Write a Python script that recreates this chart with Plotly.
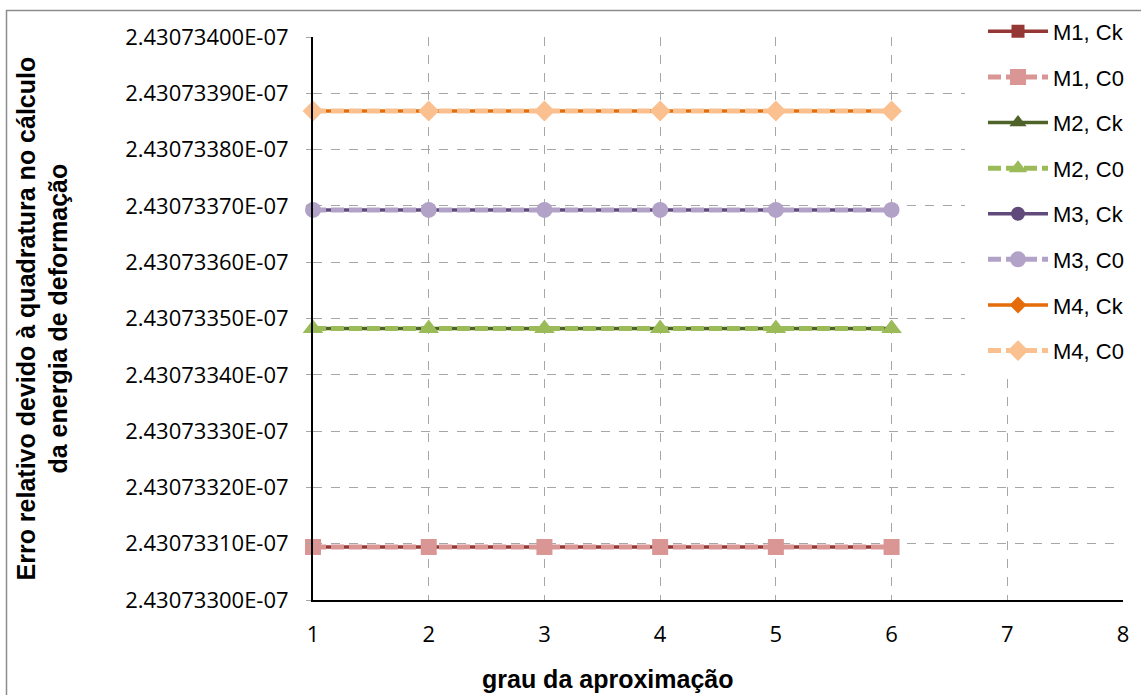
import plotly.graph_objects as go

# ---- data ----
grau = [1, 2, 3, 4, 5, 6]
m1_ck = [2.4307330942e-07] * 6
m1_c0 = [2.4307330942e-07] * 6
m2_ck = [2.4307334822e-07] * 6
m2_c0 = [2.4307334822e-07] * 6
m3_ck = [2.4307336929e-07] * 6
m3_c0 = [2.4307336929e-07] * 6
m4_ck = [2.4307338686e-07] * 6
m4_c0 = [2.4307338686e-07] * 6

y_tickvals = [2.43073300e-07, 2.43073310e-07, 2.43073320e-07, 2.43073330e-07,
              2.43073340e-07, 2.43073350e-07, 2.43073360e-07, 2.43073370e-07,
              2.43073380e-07, 2.43073390e-07, 2.43073400e-07]
y_ticktext = ["2.43073300E-07", "2.43073310E-07", "2.43073320E-07", "2.43073330E-07",
              "2.43073340E-07", "2.43073350E-07", "2.43073360E-07", "2.43073370E-07",
              "2.43073380E-07", "2.43073390E-07", "2.43073400E-07"]
x_tickvals = [1, 2, 3, 4, 5, 6, 7, 8]

series = [
    ("M1, Ck", m1_ck, "#953735", "square", 13, "solid", 3.5),
    ("M1, C0", m1_c0, "#D99694", "square", 16, "13px,5px", 5),
    ("M2, Ck", m2_ck, "#4F6228", "triangle-up", 15, "solid", 3.5),
    ("M2, C0", m2_c0, "#9BBB59", "triangle-up", 18, "13px,5px", 5),
    ("M3, Ck", m3_ck, "#604A7B", "circle", 14, "solid", 3.5),
    ("M3, C0", m3_c0, "#B3A2C7", "circle", 16, "13px,5px", 5),
    ("M4, Ck", m4_ck, "#E46C0A", "diamond", 13, "solid", 3.5),
    ("M4, C0", m4_c0, "#FAC090", "diamond", 16, "13px,5px", 5),
]

fig = go.Figure()
for i, (name, ys, color, sym, size, dash, width) in enumerate(series):
    fig.add_trace(go.Scatter(
        x=grau, y=ys, name=name, mode="lines+markers",
        line=dict(color=color, width=width, dash=dash),
        marker=dict(symbol=sym, size=size, color=color, line=dict(width=0)),
        legendgroup=f"g{i}",
        cliponaxis=False,
    ))

fig.update_layout(
    width=1141, height=695,
    margin=dict(l=313, r=18, t=37, b=95, autoexpand=False),
    paper_bgcolor="white", plot_bgcolor="white",
    font=dict(family="Liberation Sans, Arial", size=22, color="black"),
    showlegend=True,
    legend=dict(
        x=(983 - 313) / 810, xanchor="left", y=1.047, yanchor="top",
        bgcolor="rgba(0,0,0,0)", borderwidth=0,
        font=dict(family="Liberation Sans, Arial", size=22, color="black"),
        tracegroupgap=14, itemwidth=60, maxheight=650,
    ),
    xaxis=dict(
        range=[1, 8], tickvals=x_tickvals,
        showline=True, linecolor="black", linewidth=2,
        showgrid=True, gridcolor="#A6A6A6", griddash="dash", gridwidth=1,
        ticks="", zeroline=False, ticklabelstandoff=14,
        tickfont=dict(family="Open Sans, Liberation Sans", size=22),
    ),
    yaxis=dict(
        range=[2.43073300e-07, 2.43073400e-07],
        tickvals=y_tickvals, ticktext=y_ticktext,
        showline=True, linecolor="black", linewidth=2,
        showgrid=True, gridcolor="#A6A6A6", griddash="dash", gridwidth=1,
        ticks="outside", ticklen=5, tickcolor="#A6A6A6", zeroline=False,
        ticklabelstandoff=13,
        tickfont=dict(family="Open Sans, Liberation Sans", size=22),
    ),
    annotations=[
        dict(text="<b>Erro relativo devido à quadratura no cálculo<br>da energia de deformação</b>",
             xref="paper", yref="paper", x=(42 - 313) / 810, y=0.5,
             xanchor="center", yanchor="middle", textangle=-90, showarrow=False,
             font=dict(family="Liberation Sans, Arial", size=25)),
        dict(text="<b>grau da aproximação</b>",
             xref="paper", yref="paper", x=(607 - 313) / 810, y=(600 - 679) / 563,
             xanchor="center", yanchor="middle", showarrow=False,
             font=dict(family="Liberation Sans, Arial", size=25)),
    ],
    shapes=[
        dict(type="rect", xref="paper", yref="paper",
             x0=(6.5 - 313) / 810, x1=1.2, y0=-0.3, y1=(600 - 10.5) / 563,
             line=dict(color="#8C8C8C", width=1.5), fillcolor="rgba(0,0,0,0)", layer="below"),
        dict(type="rect", xref="paper", yref="paper",
             x0=(965 - 313) / 810, x1=(1140 - 313) / 810,
             y0=(600 - 378) / 563, y1=(600 - 15) / 563,
             line=dict(width=0), fillcolor="white", layer="above"),
    ],
)

fig.write_html("out.html")
